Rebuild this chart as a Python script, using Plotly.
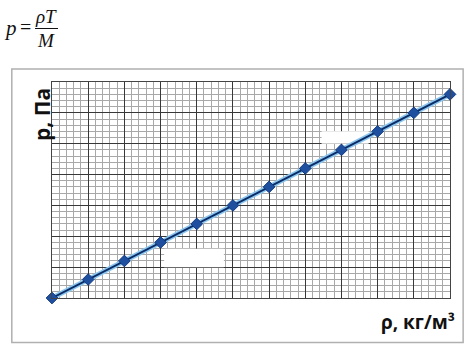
import plotly.graph_objects as go

# data (grid units: x majors 0..11, y majors 0..7)
rho = [0, 1, 2, 3, 4, 5, 6, 7, 8, 9, 10, 11]
pressure = [0, 0.6, 1.2, 1.8, 2.4, 3.0, 3.6, 4.2, 4.8, 5.4, 6.0, 6.6]
x_label = "ρ, кг/м³"
y_label = "р, Па"

fig = go.Figure()
# light blue halo under the line
fig.add_trace(go.Scatter(x=rho, y=pressure, mode="lines", cliponaxis=False,
                         line=dict(color="#8cc6ee", width=5), hoverinfo="skip"))
fig.add_trace(go.Scatter(x=rho, y=pressure, mode="lines+markers", cliponaxis=False,
                         line=dict(color="#0b2c66", width=2),
                         marker=dict(symbol="diamond", size=9, color="#1f4f9f",
                                     line=dict(color="#123a80", width=1))))

axis_common = dict(showline=True, linecolor="#444", linewidth=1, mirror=True,
                   showgrid=True, gridcolor="#383838", gridwidth=1,
                   showticklabels=False, ticks="", zeroline=False)
fig.update_xaxes(range=[0, 11], dtick=1, tick0=0,
                 minor=dict(dtick=0.2, showgrid=True, gridcolor="#a8a8a8", gridwidth=1),
                 **axis_common)
fig.update_yaxes(range=[0, 7], dtick=1, tick0=0,
                 minor=dict(dtick=0.2, showgrid=True, gridcolor="#a8a8a8", gridwidth=1),
                 **axis_common)

shapes = [
    # outer frame
    dict(type="rect", xref="paper", yref="paper", x0=-0.101, x1=1.033, y0=-0.206, y1=1.06,
         line=dict(color="#b0b0b0", width=1.5), fillcolor="rgba(0,0,0,0)", layer="below"),
    # white patches over grid
    dict(type="rect", xref="x", yref="y", x0=7.45, x1=8.75, y0=5.0, y1=5.4,
         line=dict(width=0), fillcolor="white", layer="between"),
    dict(type="rect", xref="x", yref="y", x0=3.1, x1=4.75, y0=1.0, y1=1.6,
         line=dict(width=0), fillcolor="white", layer="between"),
]

fig.update_layout(
    width=470, height=353,
    margin=dict(l=52, r=20, t=82, b=55),
    paper_bgcolor="white", plot_bgcolor="white",
    showlegend=False,
    shapes=shapes,
)

# formula p = ρT / M (pixel-placed via paper coords)
W, H = 470, 353
l, r, t, b = 52, 20, 82, 55
pw, ph = W - l - r, H - t - b
def px(x):
    return (x - l) / pw
def py(y):
    return (H - b - y) / ph

serif = "Liberation Serif"
def txt(s, x, y, size, fam=serif, **kw):
    d = dict(text=s, x=px(x), y=py(y), xanchor="center", yanchor="middle",
             font=dict(family=fam, size=size, color="#111"), showarrow=False,
             xref="paper", yref="paper")
    d.update(kw)
    return d

anns = [
    txt("<i>p</i>", 10, 28, 21),
    txt("=", 25, 27, 20),
    txt("<i>ρT</i>", 46, 16, 19),
    txt("<i>M</i>", 46, 40, 19),
    txt("<b>" + y_label + "</b>", 42, 115, 21, fam="Open Sans", textangle=-90),
    dict(text="<b>" + x_label + "</b>", x=px(457), y=py(322), xanchor="right", yanchor="middle",
         font=dict(family="Open Sans", size=19, color="#111"), showarrow=False,
         xref="paper", yref="paper"),
]
fig.update_layout(annotations=anns)
fig.add_shape(type="line", xref="paper", yref="paper", x0=px(35), x1=px(58), y0=py(28.5), y1=py(28.5),
              line=dict(color="#111", width=1))

fig.write_html("out.html")
